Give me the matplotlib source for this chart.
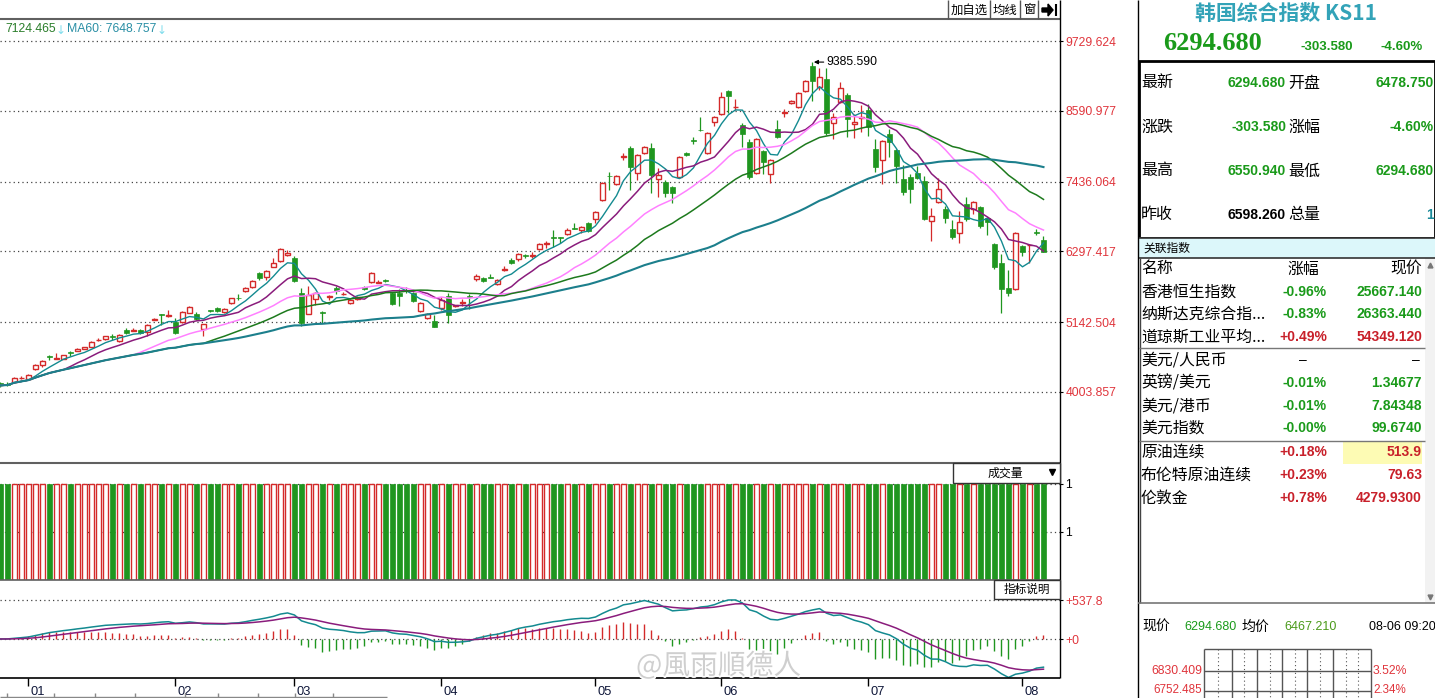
import numpy as np
import pandas as pd
import matplotlib
matplotlib.use("Agg")
import matplotlib.pyplot as plt
import matplotlib.patheffects as pe
from matplotlib.patches import Rectangle
from matplotlib.transforms import ScaledTranslation

plt.rcParams['font.family'] = ['Liberation Sans', 'Noto Sans CJK SC', 'DejaVu Sans']

# daily candles (index points, Jan -> early Aug)
opens = [4150, 4135, 4167, 4225, 4216, 4380, 4444, 4580, 4545, 4542,
         4645, 4673, 4706, 4738, 4845, 4869, 4910, 4836, 5015, 5005,
         5015, 4983, 5180, 5262, 5238, 5146, 5146, 5293, 5276, 5032,
         5330, 5374, 5309, 5456, 5540, 5651, 5716, 5945, 5880, 6043,
         6141, 6239, 6190, 5619, 5276, 5521, 5300, 5550, 5700, 5595,
         5456, 5521, 5716, 5798, 5780, 5831, 5619, 5619, 5660, 5619,
         5325, 5211, 5162, 5374, 5570, 5400, 5456, 5570, 5847, 5863,
         5880, 5765, 6000, 6157, 6173, 6239, 6222, 6336, 6425, 6525,
         6525, 6581, 6670, 6646, 6760, 6826, 7136, 7530, 7397, 7837,
         7984, 7576, 7902, 7984, 7478, 7429, 7348, 7511, 7902, 8105,
         8285, 7902, 8408, 8539, 8914, 8645, 8359, 8082, 7576, 7935,
         7560, 8294, 8555, 8718, 8653, 8914, 9322, 8979, 9110, 8392,
         8734, 8849, 8375, 8473, 8604, 7968, 7788, 8213, 7952, 7478,
         7511, 7576, 7446, 6793, 7103, 6989, 6663, 6597, 7071, 6989,
         7022, 6842, 6418, 6108, 5700, 5684, 6385, 6395, 6618, 6478.75]
highs = [4170, 4165, 4245, 4260, 4290, 4455, 4520, 4610, 4640, 4615,
         4673, 4715, 4745, 4830, 4880, 4925, 4950, 4945, 5040, 5050,
         5030, 5110, 5205, 5270, 5341, 5211, 5320, 5400, 5310, 5120,
         5345, 5390, 5370, 5545, 5603, 5715, 5825, 5960, 5990, 6190,
         6350, 6320, 6225, 5700, 5733, 5630, 5325, 5590, 5733, 5640,
         5515, 5565, 5740, 5965, 5830, 5845, 5640, 5690, 5720, 5640,
         5470, 5300, 5260, 5550, 5620, 5430, 5520, 5610, 5930, 5880,
         5925, 5840, 6060, 6190, 6265, 6250, 6287, 6430, 6460, 6640,
         6535, 6680, 6760, 6710, 6780, 6950, 7430, 7600, 7540, 7905,
         8015, 7880, 8010, 8065, 7658, 7462, 7360, 7850, 7920, 8165,
         8490, 8250, 8500, 8897, 8930, 8783, 8392, 8130, 8150, 7950,
         7800, 8440, 8620, 8760, 8895, 9090, 9385.59, 9290, 9290, 8560,
         9060, 8880, 8540, 8685, 8700, 8130, 8110, 8294, 7968, 7707,
         7560, 7690, 7530, 7000, 7500, 7040, 6810, 6960, 7185, 7120,
         7040, 6860, 6430, 6255, 5994, 6620, 6400, 6420, 6670, 6550.94]
lows = [4090, 4100, 4150, 4215, 4210, 4370, 4410, 4520, 4540, 4535,
        4590, 4665, 4700, 4730, 4835, 4860, 4850, 4825, 4950, 4995,
        4955, 4917, 5175, 5097, 5235, 4950, 5130, 5285, 5180, 4917,
        5305, 5315, 5290, 5445, 5505, 5640, 5705, 5830, 5830, 6035,
        6130, 6220, 5800, 5080, 5270, 5423, 5129, 5510, 5600, 5580,
        5440, 5510, 5675, 5790, 5775, 5805, 5430, 5410, 5620, 5470,
        5315, 5190, 5060, 5340, 5130, 5395, 5400, 5360, 5820, 5800,
        5860, 5755, 5970, 6095, 6140, 6195, 6190, 6325, 6350, 6370,
        6434, 6560, 6655, 6600, 6610, 6760, 7120, 7300, 7380, 7790,
        7300, 7465, 7890, 7250, 7185, 7185, 7087, 7500, 7855, 8050,
        8255, 7880, 8340, 8530, 8555, 8604, 8000, 7480, 7560, 7560,
        7413, 8150, 8490, 8700, 8640, 8900, 8750, 8930, 8200, 8132,
        8720, 8164, 8150, 8245, 8180, 7600, 7397, 7837, 7413, 7217,
        7087, 7480, 6810, 6467, 7090, 6760, 6500, 6430, 6800, 6910,
        6680, 6560, 6010, 5292, 5570, 5670, 6230, 6108, 6560, 6294.68]
closes = [4110, 4125, 4232, 4240, 4281, 4445, 4510, 4570, 4560, 4607,
          4635, 4706, 4738, 4820, 4860, 4918, 4900, 4934, 4966, 5020,
          4966, 5097, 5195, 5255, 5250, 4966, 5309, 5390, 5195, 5113,
          5320, 5325, 5358, 5537, 5530, 5700, 5814, 5863, 5977, 6108,
          6337, 6271, 5815, 5129, 5586, 5619, 5290, 5560, 5651, 5610,
          5505, 5554, 5684, 5945, 5790, 5815, 5439, 5570, 5650, 5488,
          5456, 5276, 5065, 5505, 5260, 5415, 5472, 5554, 5896, 5815,
          5870, 5831, 6015, 6108, 6255, 6222, 6239, 6418, 6440, 6515,
          6518, 6646, 6662, 6695, 6630, 6940, 7413, 7520, 7527, 7854,
          7674, 7870, 7999, 7544, 7544, 7250, 7250, 7837, 7870, 8095,
          8270, 8229, 8490, 8816, 8832, 8660, 8212, 7511, 8131, 7756,
          7788, 8164, 8575, 8751, 8881, 9077, 9077, 9142, 8229, 8490,
          8963, 8457, 8408, 8490, 8327, 7674, 8098, 8082, 7690, 7266,
          7315, 7495, 6826, 6875, 7315, 6842, 6532, 6777, 6826, 7103,
          6712, 6777, 6043, 5684, 5619, 6597, 6287, 6402, 6598.26, 6294.68]
volumes = [1] * len(closes)   # every volume bar sits at the panel maximum

month_pos = [4, 25, 42, 63, 85, 103, 124, 146]
month_labels = ['01', '02', '03', '04', '05', '06', '07', '08']
price_ticks = [4003.857, 5142.504, 6297.417, 7436.064, 8590.977, 9729.624]
macd_ticks = [0, 537.8]
macd_tick_labels = ['+0', '+537.8']

ma_periods = [5, 10, 20, 30, 60]
ma_colors = ['#138a90', '#8a1c7c', '#ff80ff', '#1d7a1d', '#1c7f8c']
ma_widths = [1.0, 1.1, 1.1, 1.1, 1.5]

quote_labels_l = ['最新', '涨跌', '最高', '昨收']
quote_values_l = ['6294.680', '-303.580', '6550.940', '6598.260']
quote_labels_r = ['开盘', '涨幅', '最低', '总量']
quote_values_r = ['6478.750', '-4.60%', '6294.680', '1']

rel_names = ['香港恒生指数', '纳斯达克综合指...', '道琼斯工业平均...', '美元/人民币',
             '英镑/美元', '美元/港币', '美元指数', '原油连续', '布伦特原油连续', '伦敦金']
rel_changes = ['-0.96%', '-0.83%', '+0.49%', '–', '-0.01%', '-0.01%', '-0.00%',
               '+0.18%', '+0.23%', '+0.78%']
rel_prices = ['25667.140', '26363.440', '54349.120', '–', '1.34677', '7.84348',
              '99.6740', '513.9', '79.63', '4279.9300']

RED = '#d42a2a'
GREEN = '#1f961f'
TXT_RED = '#e0353c'
VAL_GREEN = '#1a9a1a'
VAL_RED = '#c8202a'
CJK = ['Noto Sans CJK SC', 'DejaVu Sans']

W, H = 1435, 698
CHART_R = 1060
fig = plt.figure(figsize=(W / 100, H / 100), dpi=100)


def box(x0, y0, x1, y1):
    return [x0 / W, 1 - y1 / H, (x1 - x0) / W, (y1 - y0) / H]


ax_p = fig.add_axes(box(0, 19, CHART_R, 463))
ax_v = fig.add_axes(box(0, 463, CHART_R, 580))
ax_m = fig.add_axes(box(0, 580, CHART_R, 678))

n = len(closes)
x = np.arange(n)
o = np.array(opens, float)
c = np.array(closes, float)
hi = np.array(highs, float)
lo = np.array(lows, float)
vol = np.array(volumes, float)
up = c >= o

for ax in (ax_p, ax_v, ax_m):
    ax.set_xlim(-0.07, CHART_R / 7 - 0.07)
    for s in ax.spines.values():
        s.set_visible(False)
    ax.yaxis.tick_right()
    ax.tick_params(axis='x', length=0, labelbottom=False)
    ax.tick_params(axis='y', length=2, pad=2, labelsize=8.7)
    ax.set_axisbelow(True)
    ax.grid(axis='y', linestyle=(0, (1, 2.5)), color='#444444', linewidth=0.9)
    ax.grid(axis='x', visible=False)

# ---- price panel ----
ax_p.vlines(x, lo, hi, colors=np.where(up, RED, GREEN), linewidth=0.9, zorder=2)
body_lo = np.minimum(o, c)
body_h = np.maximum(np.abs(c - o), 14)
ax_p.bar(x[up], body_h[up], bottom=body_lo[up], width=0.7, facecolor='white',
         edgecolor=RED, linewidth=1, zorder=3)
ax_p.bar(x[~up], body_h[~up], bottom=body_lo[~up], width=0.7, color=GREEN,
         edgecolor=GREEN, linewidth=0.5, zorder=3)

cs = pd.Series(c)
for p, col, lw in zip(ma_periods, ma_colors, ma_widths):
    ax_p.plot(x, cs.rolling(p, min_periods=1).mean(), color=col, lw=lw, zorder=4)

ax_p.set_ylim(2845.6, 10088.6)
ax_p.set_yticks(price_ticks)
ax_p.set_yticklabels(['%.3f' % t for t in price_ticks])
ax_p.tick_params(axis='y', labelcolor=TXT_RED)

imax = int(np.argmax(hi))
ax_p.annotate('%.3f' % hi[imax], xy=(imax, hi[imax]), xytext=(14, 0),
              textcoords='offset pixels', va='center', ha='left', fontsize=8.8,
              arrowprops=dict(arrowstyle='-|>', color='black', lw=0.8,
                              shrinkA=0, shrinkB=1, mutation_scale=6), zorder=6)

# ---- volume panel ----
ax_v.bar(x[up], vol[up], width=0.7, facecolor='white', edgecolor=RED, linewidth=1)
ax_v.bar(x[~up], vol[~up], width=0.7, color=GREEN, edgecolor=GREEN, linewidth=0.5)
ax_v.set_ylim(0, vol.max() * 117 / 96)
ax_v.set_yticks([vol.max() / 2, vol.max()])
ax_v.set_yticklabels(['1', '1'])

# ---- MACD panel ----
ema12 = cs.ewm(span=12, adjust=False).mean()
ema26 = cs.ewm(span=26, adjust=False).mean()
dif = ema12 - ema26
dea = dif.ewm(span=9, adjust=False).mean()
hist = 2 * (dif - dea)
ax_m.vlines(x, 0, hist, colors=np.where(hist >= 0, RED, GREEN), linewidth=1)
ax_m.plot(x, dif, color='#138a90', lw=1.1)
ax_m.plot(x, dea, color='#8a1c7c', lw=1.1)
ax_m.set_ylim(-537.8, 813.6)
ax_m.set_yticks(macd_ticks)
ax_m.set_yticklabels(macd_tick_labels)
ax_m.tick_params(axis='y', labelcolor=TXT_RED)
ax_m.set_xticks(month_pos)
ax_m.set_xticklabels(month_labels, ha='left')
ax_m.tick_params(axis='x', length=6, width=1, direction='out', labelbottom=True,
                 labelsize=9.3, labelcolor='#10183a', pad=0)
for lab in ax_m.get_xticklabels():
    lab.set_transform(lab.get_transform() + ScaledTranslation(2 / 100, 0, fig.dpi_scale_trans))

# ---- overlay in pixel coordinates for frames and the quote panel ----
ov = fig.add_axes([0, 0, 1, 1])
ov.set_xlim(0, W)
ov.set_ylim(H, 0)
ov.axis('off')
ov.patch.set_alpha(0)


def hline(y, x0, x1, col='#555555', lw=1.0, ls='-'):
    ov.plot([x0, x1], [y, y], color=col, lw=lw, ls=ls, solid_capstyle='butt')


def vline(xx, y0, y1, col='#555555', lw=1.0, ls='-'):
    ov.plot([xx, xx], [y0, y1], color=col, lw=lw, ls=ls, solid_capstyle='butt')


hline(19, 0, CHART_R, '#606060', 1.5)
hline(463, 0, CHART_R, '#606060', 1.5)
hline(580, 0, CHART_R, '#606060', 1.2)
hline(678, 0, CHART_R, 'black', 1.2)
vline(CHART_R, 0, 678, 'black', 1.0)
vline(1138, 0, H, 'black', 1.0)

# header MA readout
ov.text(5, 29, '7124.465', color='#2a7d2a', fontsize=8.8, va='center')
ov.text(56, 31, '↓', color='#7fdcec', fontsize=8.6, va='center', family=['DejaVu Sans'])
ov.text(67, 29, 'MA60: 7648.757', color='#2a8fa5', fontsize=8.8, va='center')
ov.text(157, 31, '↓', color='#7fdcec', fontsize=8.6, va='center', family=['DejaVu Sans'])

# buttons above the price panel
for bx in (948, 990, 1020, 1038):
    vline(bx, 0, 19, '#555555', 1.0)
ov.text(969, 10, '加自选', fontsize=8.9, ha='center', va='center', family=CJK)
ov.text(1005, 10, '均线', fontsize=8.9, ha='center', va='center', family=CJK)
ov.text(1029, 10, '窗', fontsize=8.9, ha='center', va='center', family=CJK)
ov.fill([1042, 1048, 1048, 1053, 1048, 1048, 1042], [8, 8, 4, 10, 16, 12, 12], color='black')
vline(1055.5, 4, 16, 'black', 1.5)

# panel tab boxes
ov.add_patch(Rectangle((953, 463), CHART_R - 953, 20, facecolor='white', edgecolor='#333333', lw=1, zorder=5))
ov.text(1005, 473, '成交量', fontsize=8.6, ha='center', va='center', family=CJK, zorder=6)
ov.plot([1052], [472], marker='v', color='black', markersize=4, zorder=6)
ov.add_patch(Rectangle((994, 580), CHART_R - 994, 19, facecolor='white', edgecolor='#333333', lw=1, zorder=5))
ov.text(1027, 589.5, '指标说明', fontsize=8.4, ha='center', va='center', family=CJK, zorder=6)

# bottom scroll strip
hline(696.5, 0, 387, '#888888', 1.0)
for tx in (7, 54, 95, 135, 185, 218, 258, 295, 333):
    vline(tx, 693, 698, '#888888', 1.0)

# watermark
ov.text(636, 666, '@風雨順德人', fontsize=20, color='#cfcfcf', va='center',
        family=['Noto Sans CJK TC', 'Noto Sans CJK SC', 'DejaVu Sans'],
        path_effects=[pe.withStroke(linewidth=2.5, foreground='white')], zorder=7)

# ---- right quote panel ----
ov.text(1286, 13, '韩国综合指数 KS11', fontsize=15, fontweight='bold', color='#33a3b8',
        ha='center', va='center', family=CJK)
ov.text(1163, 44, '6294.680', fontsize=19, fontweight='bold', color=VAL_GREEN, va='center',
        family=['Liberation Serif'])
ov.text(1353, 47, '-303.580', fontsize=9.5, fontweight='bold', color=VAL_GREEN, ha='right', va='center')
ov.text(1423, 47, '-4.60%', fontsize=9.5, fontweight='bold', color=VAL_GREEN, ha='right', va='center')

ov.add_patch(Rectangle((1139, 61), W - 1139, 177, facecolor='none', edgecolor='black', lw=2))
quote_rows = [83, 127, 171, 215]
val_l_colors = [VAL_GREEN, VAL_GREEN, VAL_GREEN, 'black']
val_r_colors = [VAL_GREEN, VAL_GREEN, VAL_GREEN, '#1a8a9a']
for yy, la, va_, lb, vb, cl, cr in zip(quote_rows, quote_labels_l, quote_values_l,
                                       quote_labels_r, quote_values_r, val_l_colors, val_r_colors):
    ov.text(1141, yy, la, fontsize=11.5, va='center', family=CJK)
    ov.text(1286, yy, va_, fontsize=10, fontweight='bold', color=cl, ha='right', va='center')
    ov.text(1288, yy, lb, fontsize=11.5, va='center', family=CJK)
    ov.text(1434, yy, vb, fontsize=10, fontweight='bold', color=cr, ha='right', va='center')

# related indices table
ov.add_patch(Rectangle((1139, 238), W - 1139, 20, facecolor='#dcf7fa', edgecolor='none'))
hline(238, 1139, W, '#333333', 1.2)
hline(258, 1139, W, '#333333', 1.2)
ov.text(1143, 248, '关联指数', fontsize=8.5, va='center', family=CJK)
vline(1139.5, 258, 603, '#444444', 1.0)
ov.add_patch(Rectangle((1425, 258), 10, 345, facecolor='#f2f2f2', edgecolor='none'))
ov.plot([1430], [265], marker='^', color='#777777', markersize=3.5)
ov.plot([1430], [597], marker='v', color='#777777', markersize=3.5)
hline(348, 1139, 1425, '#777777', 1.0)
hline(441, 1139, 1425, '#777777', 1.0)
ov.add_patch(Rectangle((1343, 441.5), 79, 22.5, facecolor='#fdfbb4', edgecolor='none'))
hline(603, 1138, W, '#777777', 1.2)

ov.text(1141, 269, '名称', fontsize=11.4, va='center', family=CJK)
ov.text(1303, 269, '涨幅', fontsize=11.4, ha='center', va='center', family=CJK)
ov.text(1422, 269, '现价', fontsize=11.4, ha='right', va='center', family=CJK)
rel_rows = [292, 314, 337, 360, 383, 406, 428, 452, 475, 498]


def sign_color(s):
    if s.startswith('+'):
        return VAL_RED
    if s.startswith('-'):
        return VAL_GREEN
    return 'black'


for yy, nm, ch, pr in zip(rel_rows, rel_names, rel_changes, rel_prices):
    col = sign_color(ch)
    ov.text(1141, yy, nm, fontsize=11.4, va='center', family=CJK)
    if ch == '–':
        ov.text(1303, yy, ch, fontsize=10, ha='center', va='center', color='black')
        ov.text(1420, yy, pr, fontsize=10, ha='right', va='center', color='black')
    else:
        ov.text(1327, yy, ch, fontsize=10, fontweight='bold', ha='right', va='center', color=col)
        ov.text(1422, yy, pr, fontsize=10, fontweight='bold', ha='right', va='center', color=col)

# intraday strip at the bottom
ov.text(1142, 627, '现价', fontsize=10, va='center', family=CJK)
ov.text(1184, 627, '6294.680', fontsize=9, color=VAL_GREEN, va='center')
ov.text(1241, 627, '均价', fontsize=10, va='center', family=CJK)
ov.text(1284, 627, '6467.210', fontsize=9, color='#4a9a1a', va='center')
ov.text(1369, 627, '08-06 09:20', fontsize=9, color='black', va='center')

for gx in (1204, 1232, 1257, 1282, 1307, 1333, 1371):
    vline(gx, 649, H, '#555555', 1.0)
for gx in (1218, 1244, 1270, 1295, 1320, 1346, 1358):
    vline(gx, 649, H, '#555555', 0.8, ls=(0, (1, 2.5)))
for gy in (649, 671, 691):
    hline(gy, 1204, 1371, '#555555', 1.0)
ov.text(1202, 671, '6830.409', fontsize=8.8, color=TXT_RED, ha='right', va='center')
ov.text(1373, 671, '3.52%', fontsize=8.8, color=TXT_RED, ha='left', va='center')
ov.text(1202, 690, '6752.485', fontsize=8.4, color=TXT_RED, ha='right', va='center')
ov.text(1373, 690, '2.34%', fontsize=8.4, color=TXT_RED, ha='left', va='center')

fig.savefig('out.png', dpi=100)
